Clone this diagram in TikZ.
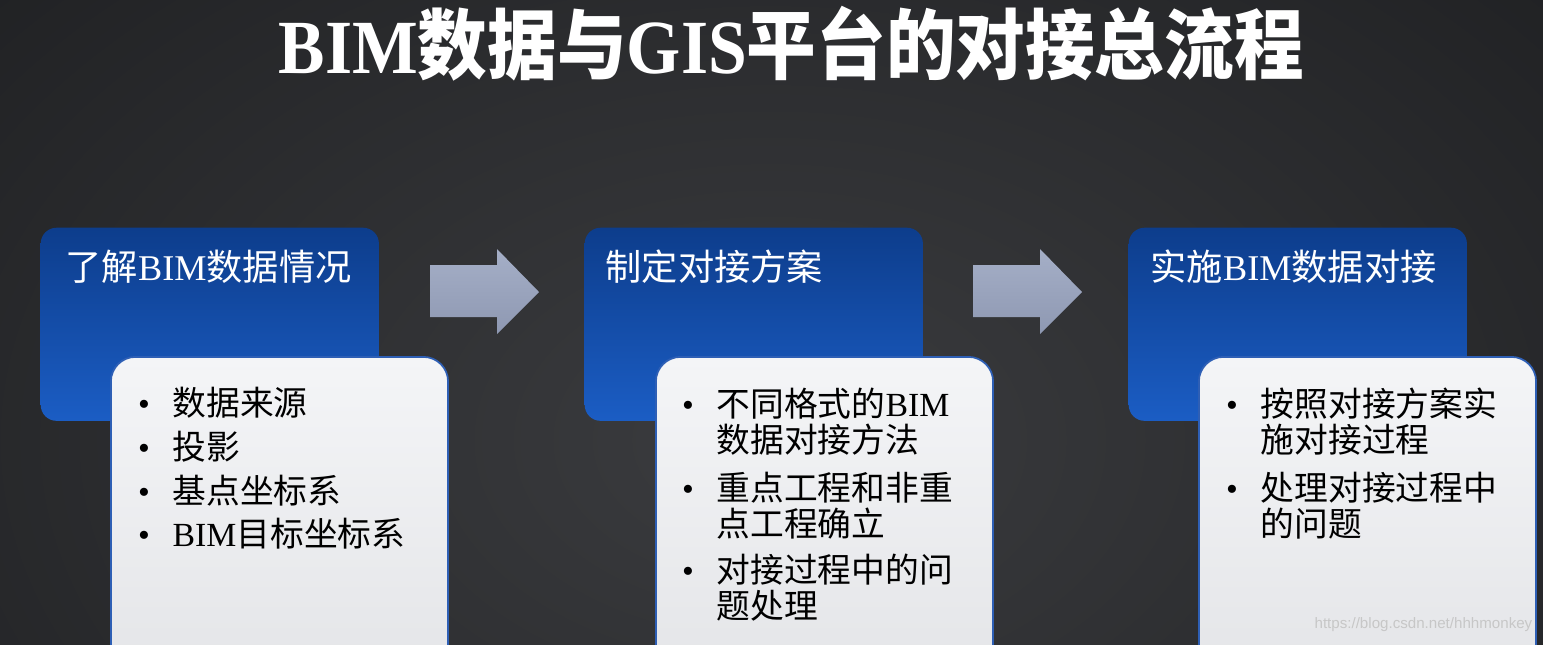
\documentclass[tikz,border=0pt]{standalone}
\usepackage{fontspec}
\usepackage{graphicx}
\setmainfont{Liberation Serif}
\newfontfamily\cjk{Noto Sans CJK SC}
\newfontfamily\urlfont{Liberation Sans}
\newcommand{\zh}[1]{{\cjk #1}}
\newcommand{\bul}{\llap{\textbullet\hspace{6.5pt}}}
\usetikzlibrary{positioning}
\definecolor{bgin}{HTML}{3B3C3F}
\definecolor{bgout}{HTML}{151618}
\definecolor{bluetop}{HTML}{0D3D8C}
\definecolor{bluebot}{HTML}{1B5DC4}
\definecolor{cardtop}{HTML}{F4F5F7}
\definecolor{cardbot}{HTML}{E3E4E7}
\definecolor{cardrim}{HTML}{2E5FB5}
\definecolor{arrtop}{HTML}{A5AFC7}
\definecolor{arrmid}{HTML}{C2CADB}
\definecolor{arrbot}{HTML}{8E98B2}

\begin{document}
\begin{tikzpicture}[x=0.01cm,y=-0.01cm,
	stage/.style={rectangle, rounded corners=4.5pt, top color=bluetop, bottom color=bluebot, minimum width=3.38cm, minimum height=1.93cm, anchor=north west, inner sep=0},
	card/.style={rectangle, rounded corners=7pt, top color=cardtop, bottom color=cardbot, draw=cardrim, line width=0.5pt, minimum width=3.37cm, minimum height=3.4cm, anchor=north west, inner sep=0},
	head/.style={anchor=base west, inner sep=0, text=white, font=\fontsize{10.3}{11}\selectfont},
	item/.style={anchor=base west, inner sep=0, align=left, font=\fontsize{9.6}{10.1}\selectfont},
	flow/.style={top color=arrtop, middle color=arrmid, bottom color=arrbot}]
	\useasboundingbox (0,0) rectangle (1543,644);
	\clip (0,0) rectangle (1543,644);
	% background
	\fill[bgout] (0,0) rectangle (1543,644);
	\shade[inner color=bgin, outer color=bgout] (770,440) ellipse (1500 and 1000);
	% title
	\node[anchor=base west, inner sep=0, text=white, font=\fontsize{19.8}{20}\selectfont\bfseries] (title) at (278,73) {\scalebox{1}[1.1]{BIM\zh{数据与}GIS\zh{平台的对接总流程}}};
	%
	\node[stage] (stage1) at (40,227) {};
	\node[stage] (stage2) at (584,227) {};
	\node[stage] (stage3) at (1128,227) {};
	\node[head] (head1) at (65,280) {\zh{了解}BIM\zh{数据情况}};
	\node[head] (head2) at (605,280) {\zh{制定对接方案}};
	\node[head] (head3) at (1150,280) {\zh{实施}BIM\zh{数据对接}};
	%
	\shade[flow] (430,265) -- (497,265) -- (497,249) -- (539,292) -- (497,334) -- (497,317) -- (430,317) -- cycle;
	\shade[flow] (973,265) -- (1040,265) -- (1040,249) -- (1082,292) -- (1040,334) -- (1040,317) -- (973,317) -- cycle;
	%
	\node[card] (card1) at (110,356) {};
	\node[card] (card2) at (655,356) {};
	\node[card] (card3) at (1198,356) {};
	% items (base = last line)
	\node[item] (i11) at (172,415) {\bul\zh{数据来源}};
	\node[item] (i12) at (172,459) {\bul\zh{投影}};
	\node[item] (i13) at (172,503) {\bul\zh{基点坐标系}};
	\node[item] (i14) at (172,546) {\bul BIM\zh{目标坐标系}};
	%
	\node[item] (i21) at (716,452) {\bul\zh{不同格式的}BIM\\\zh{数据对接方法}};
	\node[item] (i22) at (716,536) {\bul\zh{重点工程和非重}\\\zh{点工程确立}};
	\node[item] (i23) at (716,618) {\bul\zh{对接过程中的问}\\\zh{题处理}};
	%
	\node[item] (i31) at (1260,452) {\bul\zh{按照对接方案实}\\\zh{施对接过程}};
	\node[item] (i32) at (1260,536) {\bul\zh{处理对接过程中}\\\zh{的问题}};
	%
	\node[anchor=east, inner sep=0, text=black!22, font=\urlfont\fontsize{4.3}{5}\selectfont] (mark) at (1533,625) {https://blog.csdn.net/hhhmonkey};
\end{tikzpicture}
\end{document}
